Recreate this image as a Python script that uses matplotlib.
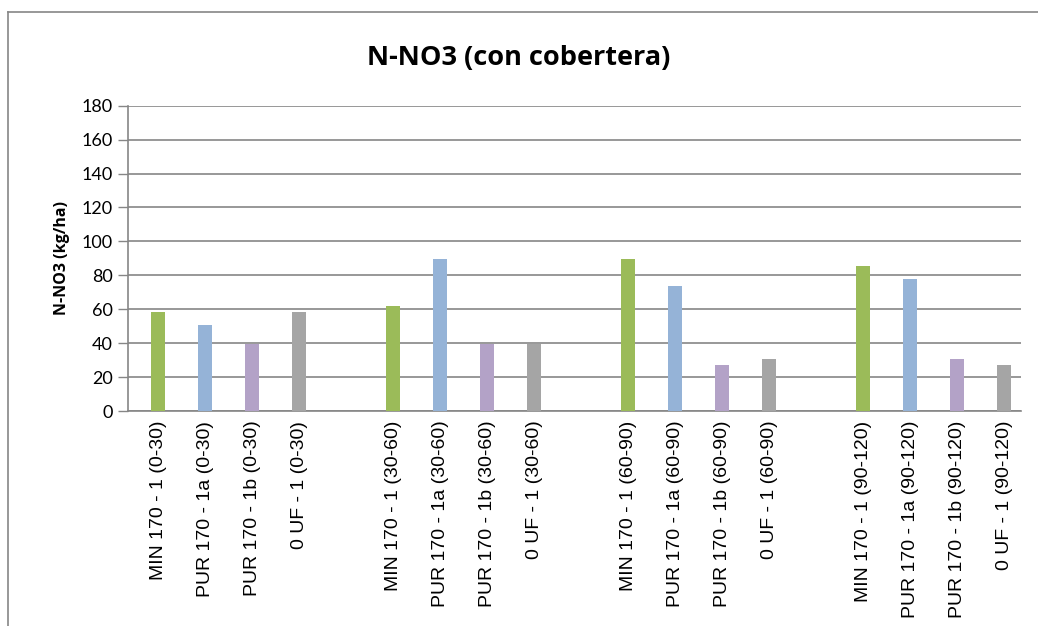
import matplotlib
matplotlib.use("Agg")
import matplotlib.pyplot as plt
from matplotlib.lines import Line2D

# datos
etiquetas = [
    "MIN 170 - 1 (0-30)", "PUR 170 - 1a (0-30)", "PUR 170 - 1b (0-30)", "0 UF - 1 (0-30)",
    "MIN 170 - 1 (30-60)", "PUR 170 - 1a (30-60)", "PUR 170 - 1b (30-60)", "0 UF - 1 (30-60)",
    "MIN 170 - 1 (60-90)", "PUR 170 - 1a (60-90)", "PUR 170 - 1b (60-90)", "0 UF - 1 (60-90)",
    "MIN 170 - 1 (90-120)", "PUR 170 - 1a (90-120)", "PUR 170 - 1b (90-120)", "0 UF - 1 (90-120)",
]
valores = [58.5, 50.8, 39.5, 58.5,
           62, 89.7, 39.5, 39.5,
           89.7, 73.8, 27.2, 30.8,
           85.5, 77.8, 30.8, 27.2]
colores_serie = ["#9BBB59", "#95B3D7", "#B3A2C7", "#A5A5A5"]
yticks = list(range(0, 181, 20))

# posiciones: un hueco entre cada grupo de 4
pos = []
for i in range(len(valores)):
    pos.append(i + i // 4)
colores = [colores_serie[i % 4] for i in range(len(valores))]

fig = plt.figure(figsize=(10.38, 6.26), dpi=100)
ax = fig.add_axes([128 / 1038, 1 - 411 / 626, (1021 - 128) / 1038, (411 - 105.7) / 626])

ax.bar(pos, valores, width=0.3, color=colores, zorder=3)

ax.set_ylim(0, 180)
ax.set_xlim(-0.64, 18.36)
ax.set_yticks(yticks)
ax.set_yticklabels([str(t) for t in yticks], fontsize=13, family="Lato")
ax.set_xticks(pos)
ax.set_xticklabels(etiquetas, rotation=90, fontsize=14, family="Liberation Sans")
ax.tick_params(axis="x", length=0, pad=7)
ax.tick_params(axis="y", length=7, width=1, color="#868686", pad=4)

ax.grid(axis="y", color="#868686", linewidth=1.2, zorder=0)
for s in ["top", "right"]:
    ax.spines[s].set_visible(False)
ax.spines["left"].set_color("#868686")
ax.spines["left"].set_linewidth(1.2)
ax.spines["bottom"].set_color("#868686")
ax.spines["bottom"].set_linewidth(1.2)

ax.set_ylabel("N-NO3 (kg/ha)", fontsize=11.5, fontweight="bold", family="Open Sans", labelpad=8)
fig.text(0.5, 1 - 58 / 626, "N-NO3 (con cobertera)", ha="center", va="center",
         fontsize=19.5, fontweight="bold", family="Open Sans")

# marco exterior del grafico
fig.add_artist(Line2D([8 / 1038, 1], [1 - 12 / 626, 1 - 12 / 626], color="#868686", linewidth=1.2))
fig.add_artist(Line2D([8 / 1038, 8 / 1038], [0, 1 - 12 / 626], color="#868686", linewidth=1.2))

fig.savefig("out.png", dpi=100)
